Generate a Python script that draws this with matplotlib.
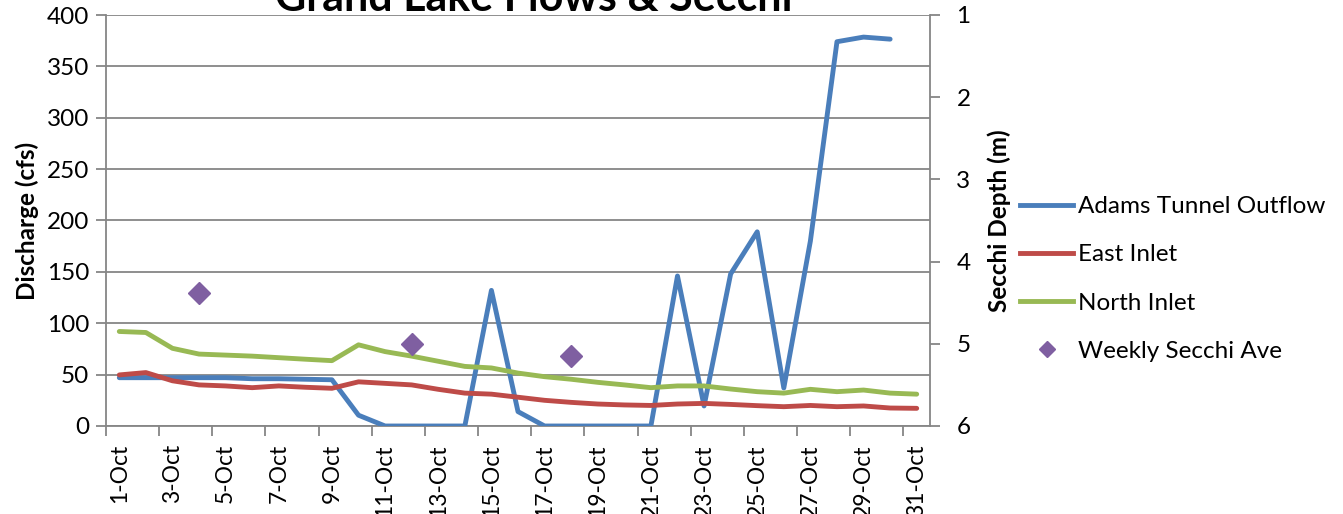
import numpy as np
import matplotlib
matplotlib.use("Agg")
import matplotlib.pyplot as plt
from matplotlib.lines import Line2D

plt.rcParams['font.family'] = ['Lato', 'DejaVu Sans']

days = [f"{d}-Oct" for d in range(1, 32)]
adams = [47, 47, 47, 47, 47, 46, 46, 45.5, 45, 10.5, 0, 0, 0, 0, 132, 14, 0, 0, 0, 0, 0,
         146, 19.5, 148, 189, 37, 180, 374, 378.5, 376.5, np.nan]
east = [49.7, 52, 44, 40, 39, 37.3, 39, 37.7, 36.7, 43, 41.5, 40, 35.7, 32, 31, 28, 25, 23,
        21.4, 20.5, 20, 21.4, 22, 21, 19.8, 18.8, 20, 18.8, 19.5, 17.5, 17.2]
north = [92, 91, 75.6, 70, 69, 68, 66.5, 65, 63.6, 79, 72.4, 68, 63, 58, 56.5, 51.5, 48, 45.5,
         42.5, 40, 37.3, 39, 39, 36, 33.4, 32, 35.7, 33.4, 35, 32, 31]
secchi_idx = [3, 11, 17]
secchi_vals = [4.38, 5.0, 5.15]

c_blue = '#4A7EBB'
c_red = '#BE4B48'
c_green = '#98B954'
c_purple = '#7F5FA1'
c_grid = '#868686'
FS = 17.5

fig = plt.figure(figsize=(13.43, 5.14), dpi=100)
ax = fig.add_axes([106/1343, 1-426/514, (930-106)/1343, 411/514])
x = np.arange(len(days))

for ser, col in [(adams, c_blue), (east, c_red), (north, c_green)]:
    ax.plot(x, ser, color=col, lw=3.5, solid_capstyle='round', solid_joinstyle='round', zorder=3)

ax.set_xlim(-0.5, len(days) - 0.5)
ax.set_ylim(0, 400)
ax.set_yticks(np.arange(0, 401, 50))
ax.grid(axis='y', color=c_grid, lw=1.3)
ax.set_axisbelow(True)
ax.set_xticks(np.arange(-0.5, len(days) - 0.5, 2))
ax.set_xticklabels([])
ax.set_xticks(x[::2], minor=True)
ax.set_xticklabels(days[::2], minor=True, rotation=90, fontsize=16.5)
ax.tick_params(axis='x', which='major', length=7, width=1.3, color=c_grid, direction='out')
ax.tick_params(axis='x', which='minor', length=0, pad=13)
ax.tick_params(axis='y', length=7, width=1.3, color=c_grid, labelsize=FS, pad=5)
for s in ['top', 'right']:
    ax.spines[s].set_visible(False)
for s in ['left', 'bottom']:
    ax.spines[s].set_color(c_grid)
    ax.spines[s].set_linewidth(1.3)
ax.set_ylabel('Discharge (cfs)', fontsize=FS, fontweight='bold', labelpad=6)

ax2 = ax.twinx()
ax2.set_ylim(6, 1)
ax2.set_yticks([1, 2, 3, 4, 5, 6])
ax2.plot(secchi_idx, secchi_vals, linestyle='none', marker='D', ms=11, color=c_purple,
         markeredgecolor=c_purple, zorder=4)
ax2.tick_params(axis='y', length=7, width=1.3, color=c_grid, labelsize=FS, pad=12)
for s in ['top', 'left', 'bottom']:
    ax2.spines[s].set_visible(False)
ax2.spines['right'].set_color(c_grid)
ax2.spines['right'].set_linewidth(1.3)
ax2.set_ylabel('Secchi Depth (m)', fontsize=FS, fontweight='bold', labelpad=12)

fig.text(534/1343, 1-11/514, 'Grand Lake Flows & Secchi', ha='center', va='baseline',
         fontsize=31, fontweight='bold')

handles = [Line2D([], [], color=c_blue, lw=3.5),
           Line2D([], [], color=c_red, lw=3.5),
           Line2D([], [], color=c_green, lw=3.5),
           Line2D([], [], color=c_purple, marker='D', ms=8.5, linestyle='none')]
labels = ['Adams Tunnel Outflow', 'East Inlet', 'North Inlet', 'Weekly Secchi Ave']
fig.legend(handles, labels, loc='center left', bbox_to_anchor=(1020/1343, 1-279/514),
           frameon=False, fontsize=FS, handlelength=2.2, handletextpad=0.2,
           labelspacing=1.12, borderpad=0, borderaxespad=0)

fig.savefig('out.png', dpi=100)
